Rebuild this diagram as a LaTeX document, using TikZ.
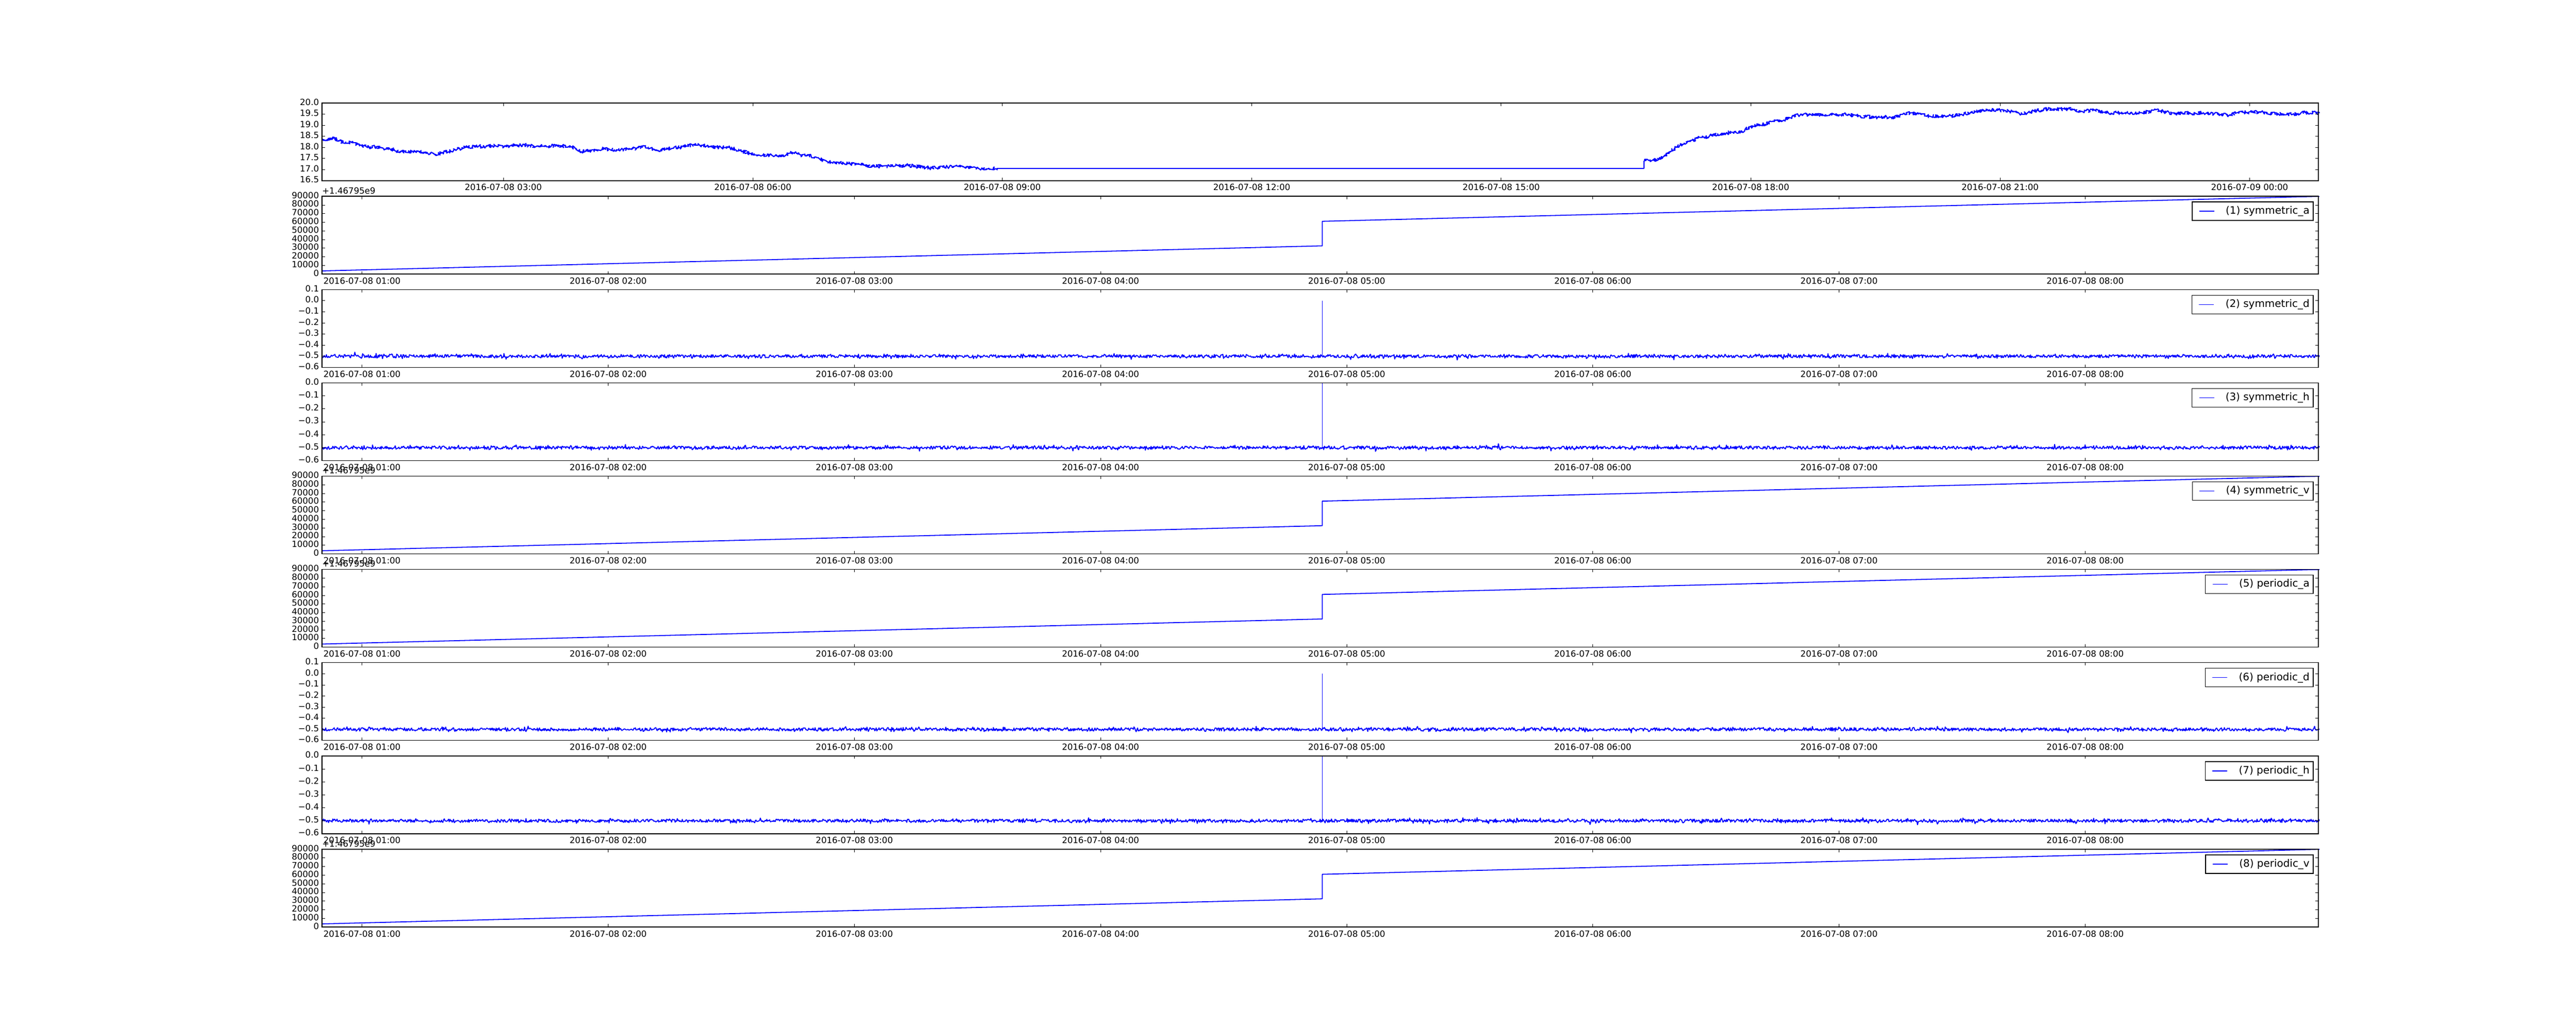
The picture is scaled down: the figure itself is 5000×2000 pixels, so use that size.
\documentclass[tikz,border=0pt]{standalone}
\usepackage{fontspec}
\setmainfont{DejaVu Sans}
\usepackage{tikz}
\usetikzlibrary{decorations.pathmorphing}
\definecolor{plotblue}{RGB}{0,0,255}

% y ticks and labels of the three kinds of panels (panel coordinates, pixels)
\newcommand{\yticksA}{%
  \foreach \k in {0,...,9}{%
    \pgfmathsetmacro\yy{150.94-\k*16.771}
    \draw[tick] (625,\yy) -- ++(5.56,0);
    \draw[tick] (4500,\yy) -- ++(-5.56,0);
    \node[ticklab, anchor=east] at (619.4,\yy-2) {\ifnum\k=0 0\else\k0000\fi};
  }
  \node[ticklab, anchor=base west] at (625,-5) {+1.46795e9};
}
\newcommand{\yticksD}{%
  \foreach \k/\lab in {0/0.1,1/0.0,2/−0.1,3/−0.2,4/−0.3,5/−0.4,6/−0.5,7/−0.6}{%
    \pgfmathsetmacro\yy{\k*21.563}
    \draw[tick] (625,\yy) -- ++(5.56,0);
    \draw[tick] (4500,\yy) -- ++(-5.56,0);
    \node[ticklab, anchor=east] at (619.4,\yy-2) {\lab};
  }
}
\newcommand{\yticksH}{%
  \foreach \k/\lab in {0/0.0,1/−0.1,2/−0.2,3/−0.3,4/−0.4,5/−0.5,6/−0.6}{%
    \pgfmathsetmacro\yy{\k*25.157}
    \draw[tick] (625,\yy) -- ++(5.56,0);
    \draw[tick] (4500,\yy) -- ++(-5.56,0);
    \node[ticklab, anchor=east] at (619.4,\yy-2) {\lab};
  }
}

% data of the panels (hours, values)
\newcommand{\dataA}{%
  \begin{scope}[shift={(224.9,150.94)}, x=4.778in, y=0.016771in]
    \clip (0.8374,0) rectangle (8.9474,90);
    \draw[dline] (0.8374,3.6) -- (4.898,32.6) -- (4.898,61.0) -- (8.9474,89.9);
  \end{scope}
}
\newcommand{\dataD}{%
  \begin{scope}[shift={(224.9,21.563)}, x=4.778in, y=2.1563in]
    \clip (0.8374,-0.6) rectangle (8.9474,0.1);
    \draw[nline] plot[domain=0.8374:8.9474, samples=2800] (\x,{-0.5+0.014*rand+0.035*rand*rand*rand*rand});
    \draw[dline] (4.898,-0.5) -- (4.898,0);
  \end{scope}
}
\newcommand{\dataH}{%
  \begin{scope}[shift={(224.9,0)}, x=4.778in, y=2.5157in]
    \clip (0.8374,-0.6) rectangle (8.9474,0);
    \draw[nline] plot[domain=0.8374:8.9474, samples=2800] (\x,{-0.5+0.012*rand+0.03*rand*rand*rand*rand});
    \draw[dline] (4.898,-0.5) -- (4.898,0);
  \end{scope}
}

\begin{document}
\begin{tikzpicture}[x=0.01in, y=-0.01in, font=\fontsize{12}{14}\selectfont]
  % Styles
  \tikzset{frame/.style={line width=1pt}}
  \tikzset{tick/.style={line width=0.5pt}}
  \tikzset{dline/.style={plotblue, line width=1.3pt, line join=round}}
  \tikzset{nline/.style={plotblue, line width=1.4pt, line join=round}}
  \tikzset{jitter/.style={plotblue, line width=1.6pt, line join=round, decorate,
      decoration={random steps, segment length=1pt, amplitude=2.4pt}}}
  \tikzset{ticklab/.style={inner sep=0pt}}
  \tikzset{legtext/.style={font=\fontsize{14.4}{17}\selectfont, inner sep=0pt, anchor=east}}
  \pgfmathsetseed{2016}

  \fill[white] (0,0) rectangle (5000,2000);
  \useasboundingbox (0,0) rectangle (5000,2000);

  % --- Top panel: 24 hours ---
  \begin{scope}[shift={(492.8,1062.5)}, x=1.614in, y=0.43126in]
    \clip (0.82,16.5) rectangle (24.83,20);
    \draw[jitter]
      plot coordinates {(0.82,18.35) (0.97,18.39) (1.07,18.2) (1.18,18.2) (1.30,18.05) (1.42,17.99)
      (1.48,18.03) (1.56,17.91) (1.66,17.91) (1.73,17.81) (2.01,17.79) (2.18,17.68) (2.32,17.78)
      (2.42,17.89) (2.51,17.97) (2.68,18.05) (2.77,18.02) (2.95,18.10) (3.01,18.03) (3.08,18.07)
      (3.25,18.10) (3.39,18.03) (3.67,18.07) (3.82,18.02) (3.93,17.80) (4.10,17.87) (4.20,17.93)
      (4.38,17.87) (4.53,17.91) (4.67,18.0) (4.74,18.0) (4.84,17.85) (4.98,17.94) (5.14,18.0)
      (5.31,18.14) (5.38,18.07) (5.57,18.0) (5.71,17.99) (5.85,17.84) (5.97,17.71) (6.12,17.64)
      (6.23,17.62) (6.33,17.58) (6.45,17.75) (6.54,17.74) (6.59,17.62) (6.68,17.64) (6.80,17.47)
      (6.90,17.33) (7.04,17.31) (7.14,17.26) (7.28,17.23) (7.42,17.14) (7.61,17.14) (7.86,17.18)
      (7.99,17.12) (8.14,17.06) (8.30,17.10) (8.49,17.14) (8.59,17.08) (8.84,17.0) (8.93,17.05)};
    \draw[dline] (8.93,17.05) -- (16.71,17.05) -- (16.71,17.39);
    \draw[jitter]
      plot coordinates {(16.71,17.39) (16.78,17.43) (16.87,17.40) (17.01,17.77) (17.10,17.99)
      (17.19,18.18) (17.27,18.28) (17.36,18.41) (17.44,18.45) (17.53,18.55) (17.66,18.56)
      (17.73,18.66) (17.87,18.69) (17.96,18.87) (18.04,18.97) (18.16,19.03) (18.24,19.15)
      (18.39,19.22) (18.50,19.40) (18.62,19.47) (18.85,19.45) (19.13,19.47) (19.31,19.40)
      (19.48,19.34) (19.59,19.37) (19.65,19.32) (19.76,19.37) (19.91,19.55) (20.11,19.41)
      (20.28,19.37) (20.51,19.46) (20.68,19.57) (20.82,19.71) (21.08,19.64) (21.25,19.49)
      (21.40,19.63) (21.57,19.72) (21.88,19.71) (21.97,19.61) (22.11,19.67) (22.25,19.55)
      (22.57,19.54) (22.74,19.57) (22.86,19.68) (22.97,19.58) (23.08,19.51) (23.43,19.54)
      (23.60,19.50) (23.75,19.44) (23.86,19.57) (24.12,19.59) (24.29,19.50) (24.52,19.49)
      (24.63,19.55) (24.83,19.55)};
  \end{scope}
  \draw[frame] (625,200) rectangle (4500,350.94);
  \foreach \t/\lab in {3/2016-07-08 03:00, 6/2016-07-08 06:00, 9/2016-07-08 09:00,
      12/2016-07-08 12:00, 15/2016-07-08 15:00, 18/2016-07-08 18:00,
      21/2016-07-08 21:00, 24/2016-07-09 00:00}{
    \pgfmathsetmacro\xx{977+161.4*(\t-3)}
    \draw[tick] (\xx,200) -- ++(0,5.56);
    \draw[tick] (\xx,350.94) -- ++(0,-5.56);
    \node[ticklab, anchor=base] at (\xx,370) {\lab};
  }
  \foreach \k/\lab in {0/20.0,1/19.5,2/19.0,3/18.5,4/18.0,5/17.5,6/17.0,7/16.5}{
    \pgfmathsetmacro\yy{200+\k*21.563}
    \draw[tick] (625,\yy) -- ++(5.56,0);
    \draw[tick] (4500,\yy) -- ++(-5.56,0);
    \node[ticklab, anchor=east] at (619.4,\yy-2) {\lab};
  }

  % --- Eight panels: 8 hours each ---
  \foreach \i/\kind/\name in {1/A/{(1) symmetric\_a}, 2/D/{(2) symmetric\_d},
      3/H/{(3) symmetric\_h}, 4/A/{(4) symmetric\_v}, 5/A/{(5) periodic\_a},
      6/D/{(6) periodic\_d}, 7/H/{(7) periodic\_h}, 8/A/{(8) periodic\_v}}{
    \pgfmathsetmacro\ptop{200+\i*181.13}
    \begin{scope}[shift={(0,\ptop)}]
      \csname data\kind\endcsname
      \draw[frame] (625,0) rectangle (4500,150.94);
      \foreach \t in {1,...,8}{
        \pgfmathsetmacro\xx{702.7+477.8*(\t-1)}
        \draw[tick] (\xx,0) -- ++(0,5.56);
        \draw[tick] (\xx,150.94) -- ++(0,-5.56);
        \node[ticklab, anchor=base] at (\xx,170) {2016-07-08 0\t:00};
      }
      \csname yticks\kind\endcsname
      % legend
      \node[legtext] (lg\i) at (4483,29) {\name};
      \draw[frame] (lg\i.west) ++(-65,-18) rectangle (4490,47);
      \draw[plotblue, line width=1pt] (lg\i.west) ++(-51,0) -- ++(29,0);
    \end{scope}
  }
\end{tikzpicture}
\end{document}
